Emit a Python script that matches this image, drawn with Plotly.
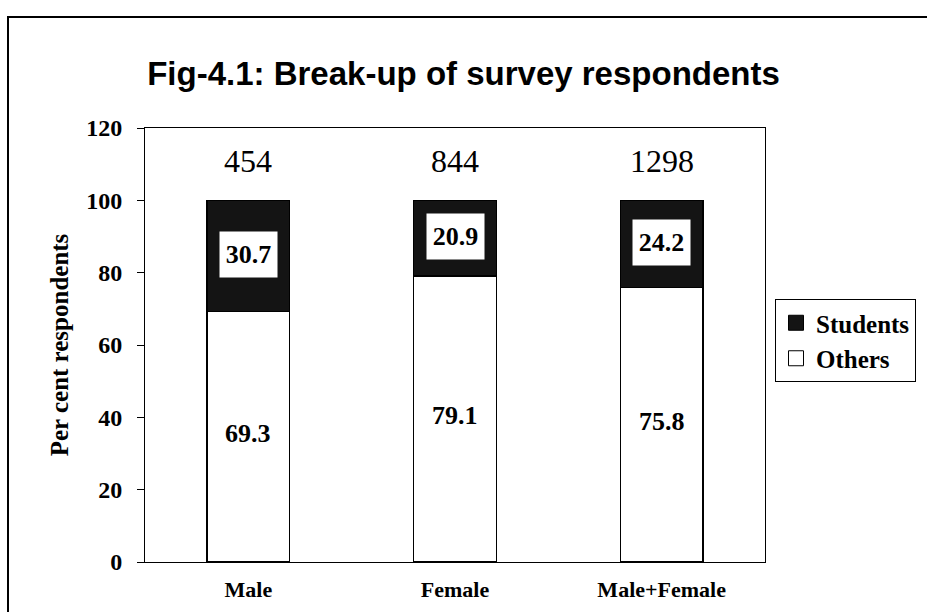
import plotly.graph_objects as go

categories = ["Male", "Female", "Male+Female"]
others = [69.3, 79.1, 75.8]
students = [30.7, 20.9, 24.2]
totals = ["454", "844", "1298"]
series_names = ["Others", "Students"]
y_ticks = [0, 20, 40, 60, 80, 100, 120]
title_text = "Fig-4.1: Break-up of survey respondents"
y_title = "Per cent respondents"

SERIF = "Liberation Serif, Times New Roman, serif"
SANS = "Liberation Sans, Arial, sans-serif"

W, H = 927, 612
L, R, T, B = 145, 162, 128, 50

fig = go.Figure()
fig.add_trace(go.Bar(
    x=categories, y=others, name=series_names[0], width=0.4, showlegend=False,
    marker=dict(color="white", line=dict(color="black", width=1.2)),
))
fig.add_trace(go.Bar(
    x=categories, y=students, name=series_names[1], width=0.4, showlegend=False,
    marker=dict(color="#141414", line=dict(color="black", width=1.2)),
))
# legend entries (square swatches)
fig.add_trace(go.Scatter(
    x=[None], y=[None], mode="markers", name=series_names[1],
    marker=dict(symbol="square", size=15, color="#141414", line=dict(color="black", width=1)),
))
fig.add_trace(go.Scatter(
    x=[None], y=[None], mode="markers", name=series_names[0],
    marker=dict(symbol="square", size=15, color="white", line=dict(color="black", width=1)),
))

annotations = []
for i, c in enumerate(categories):
    annotations.append(dict(
        x=c, y=111, xref="x", yref="y", text=totals[i], showarrow=False,
        font=dict(family=SERIF, size=32, color="black"),
    ))
    annotations.append(dict(
        x=c, y=others[i] + students[i] / 2 + 0.5, xref="x", yref="y",
        text=f"{students[i]:.1f}", showarrow=False,
        font=dict(family=SERIF, size=26, color="black", weight="bold"),
        bgcolor="white", width=53, height=41, borderpad=2,
    ))
    annotations.append(dict(
        x=c, y=others[i] / 2 + 0.9, xref="x", yref="y",
        text=f"{others[i]:.1f}", showarrow=False,
        font=dict(family=SERIF, size=26, color="black", weight="bold"),
    ))

pw = W - L - R
ph = H - T - B
def px_x(p):
    return (p - L) / pw
def px_y(p):
    return (H - B - p) / ph

fig.update_layout(
    width=W, height=H,
    margin=dict(l=L, r=R, t=T, b=B, autoexpand=False),
    paper_bgcolor="white", plot_bgcolor="white",
    barmode="stack",
    title=dict(text=title_text, x=0.5, xref="container", y=1 - 73 / H, yref="container",
               xanchor="center", yanchor="middle",
               font=dict(family=SANS, size=33, color="black", weight="bold")),
    showlegend=True,
    legend=dict(
        x=px_x(775), y=px_y(299), xanchor="left", yanchor="top",
        traceorder="normal",
        bordercolor="black", borderwidth=1, bgcolor="white",
        font=dict(family=SERIF, size=25, color="black", weight="bold"),
        itemwidth=30, tracegroupgap=0,
    ),
    xaxis=dict(
        range=[-0.5, 2.5], showline=True, linecolor="black", linewidth=1, mirror=True,
        ticks="", showgrid=False, zeroline=False, automargin=False,
        tickfont=dict(family=SERIF, size=22, color="black", weight="bold"),
        ticklabelstandoff=8,
    ),
    yaxis=dict(
        range=[0, 120], tickvals=y_ticks, showline=True, linecolor="black", linewidth=1,
        mirror=True, ticks="outside", ticklen=7, tickcolor="black", showgrid=False,
        zeroline=False, automargin=False,
        tickfont=dict(family=SERIF, size=24, color="black", weight="bold"),
        ticklabelstandoff=10,
        title=dict(text=y_title, standoff=10,
                   font=dict(family=SERIF, size=25, color="black", weight="bold")),
    ),
    annotations=annotations,
    shapes=[dict(type="rect", xref="paper", yref="paper",
                 x0=px_x(8), x1=px_x(935), y0=px_y(620), y1=px_y(17),
                 line=dict(color="black", width=2), fillcolor="rgba(0,0,0,0)", layer="below")],
)

fig.write_html("out.html")
